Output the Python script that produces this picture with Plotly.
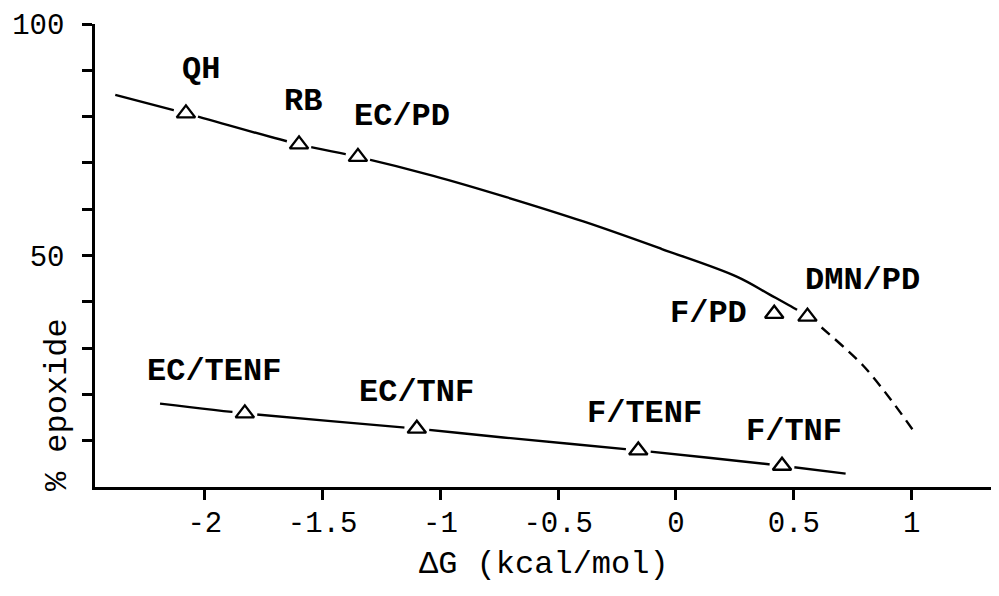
import plotly.graph_objects as go

# ---- data ----
# upper curve (solid part) through the PD / QH / RB series
upper_curve_x = [-2.38, -2.08, -1.60, -1.35, -1.03, -0.72, -0.39, -0.06, 0.26, 0.40, 0.525, 0.558]
upper_curve_y = [84.7, 80.7, 74.0, 71.3, 67.2, 62.6, 57.3, 51.4, 45.4, 41.5, 37.9, 36.8]
# extrapolated (dashed) part
dashed_x = [0.558, 0.598, 0.793, 0.913, 1.014]
dashed_y = [36.8, 35.3, 26.3, 18.8, 11.7]
# lower curve (TNF / TENF series)
lower_curve_x = [-2.19, -1.83, -1.10, -0.733, -0.16, 0.45, 0.72]
lower_curve_y = [18.0, 15.9, 12.6, 10.7, 7.9, 4.6, 2.9]

# measured points
point_labels = ["QH", "RB", "EC/PD", "F/PD", "DMN/PD", "EC/TENF", "EC/TNF", "F/TENF", "F/TNF"]
point_x = [-2.08, -1.60, -1.35, 0.417, 0.558, -1.83, -1.10, -0.16, 0.45]
point_y = [80.7, 74.0, 71.3, 37.4, 36.8, 15.9, 12.6, 7.9, 4.6]

x_tick_vals = [-2, -1.5, -1, -0.5, 0, 0.5, 1]
x_tick_text = ["-2", "-1.5", "-1", "-0.5", "0", "0.5", "1"]
y_tick_vals = [10, 20, 30, 40, 50, 60, 70, 80, 90, 100]
y_tick_text = ["", "", "", "", "50", "", "", "", "", "100"]

# label offsets in pixels relative to each marker (dx, dy up)
label_offsets = [(15, 44), (4, 43), (44, 40), (-66, 0), (55, 36),
                 (-31, 42), (0, 36), (6, 37), (12, 34)]

MONO = "Liberation Mono"

fig = go.Figure()
fig.add_trace(go.Scatter(x=upper_curve_x, y=upper_curve_y, mode="lines",
                         line=dict(color="black", width=2.4, shape="spline", smoothing=1.0),
                         hoverinfo="skip", showlegend=False))
fig.add_trace(go.Scatter(x=dashed_x, y=dashed_y, mode="lines",
                         line=dict(color="black", width=2.4, dash="11px,7px", shape="spline", smoothing=0.8),
                         hoverinfo="skip", showlegend=False))
fig.add_trace(go.Scatter(x=lower_curve_x, y=lower_curve_y, mode="lines",
                         line=dict(color="black", width=2.4, shape="spline", smoothing=0.6),
                         hoverinfo="skip", showlegend=False))
# white halos to break the lines around the markers
fig.add_trace(go.Scatter(x=point_x, y=point_y, mode="markers",
                         marker=dict(symbol="circle", size=25, color="white", line=dict(width=0)),
                         hoverinfo="skip", showlegend=False))
fig.add_trace(go.Scatter(x=point_x, y=point_y, mode="markers",
                         marker=dict(symbol="triangle-up", size=16, color="white",
                                     line=dict(color="black", width=2.4)),
                         text=point_labels, showlegend=False))

for lab, px, py, (dx, dy) in zip(point_labels, point_x, point_y, label_offsets):
    fig.add_annotation(x=px, y=py, xref="x", yref="y", text=lab, showarrow=False,
                       xshift=dx, yshift=dy, xanchor="center", yanchor="middle",
                       font=dict(family=MONO, size=32, color="black", weight="bold"))

fig.add_annotation(x=0.497, y=-0.168, xref="paper", yref="paper",
                   text="ΔG (kcal/mol)", showarrow=False,
                   xanchor="center", yanchor="middle",
                   font=dict(family=MONO, size=32, color="black"))
fig.add_annotation(x=-0.042, y=0.177, xref="paper", yref="paper",
                   text="% epoxide", showarrow=False, textangle=-90,
                   xanchor="center", yanchor="middle",
                   font=dict(family=MONO, size=32, color="black"))

# the page body adds an 8px offset, so the figure is 16px smaller than the window
fig.update_layout(
    width=991, height=588,
    margin=dict(l=87, r=0, t=16, b=109, autoexpand=False),
    paper_bgcolor="white", plot_bgcolor="white",
    xaxis=dict(range=[-2.466, 1.371], showgrid=False, zeroline=False, automargin=False,
               showline=True, linecolor="black", linewidth=2.5,
               ticks="outside", ticklen=10, tickwidth=2.5, tickcolor="black",
               tickvals=x_tick_vals, ticktext=x_tick_text, ticklabelstandoff=-3,
               tickfont=dict(family=MONO, size=29, color="black")),
    yaxis=dict(range=[0, 100], showgrid=False, zeroline=False, automargin=False,
               showline=True, linecolor="black", linewidth=2.5,
               ticks="outside", ticklen=10, tickwidth=2.5, tickcolor="black",
               tickvals=y_tick_vals, ticktext=y_tick_text, ticklabelstandoff=12,
               tickfont=dict(family=MONO, size=29, color="black")),
)

fig.write_html("out.html")
